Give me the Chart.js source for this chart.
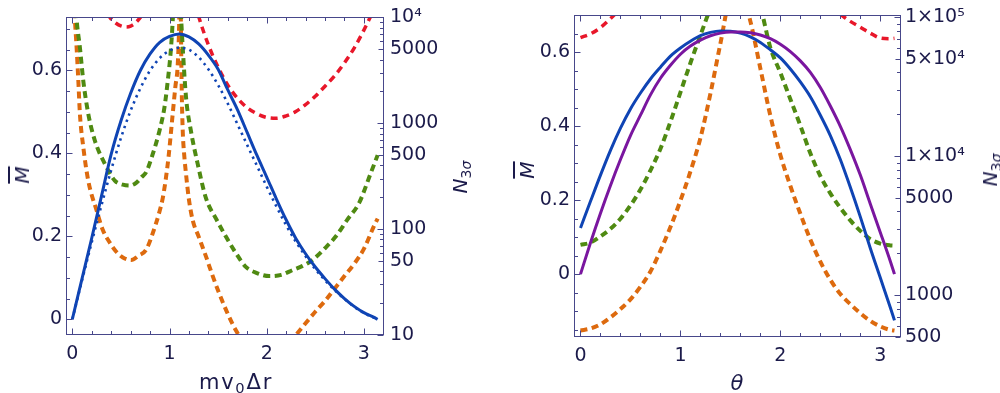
<!DOCTYPE html>
<html>
<head>
<meta charset="utf-8">
<script src="https://cdn.jsdelivr.net/npm/chart.js@4.4.0/dist/chart.umd.min.js"></script>
<style>
  html, body { margin: 0; padding: 0; background: #fff; }
  #wrap { position: relative; width: 1000px; height: 393px; overflow: hidden;
          font-family: "DejaVu Sans", sans-serif; color: #1b1a4a; }
  canvas { position: absolute; top: 0; }
  .lbl { position: absolute; white-space: nowrap; font-size: 20px; line-height: 1; }
  .rot { transform: translate(-50%, -50%) rotate(-90deg); }
  .hor { transform: translate(-50%, -50%); }
  .lbl sub { font-size: 70%; vertical-align: -0.3em; line-height: 0; }
  .bar { text-decoration: overline; }
  .wide { font-size: 21px; letter-spacing: 1.8px; }
</style>
</head>
<body>
<div id="wrap">
  <canvas id="left" width="500" height="393" style="left:0"></canvas>
  <canvas id="right" width="500" height="393" style="left:500px"></canvas>

  <div class="lbl rot" style="left:22px;top:175px"><i class="bar">M</i></div>
  <div class="lbl rot" style="left:460px;top:177px"><i>N</i><sub>3<i>σ</i></sub></div>
  <div class="lbl hor wide" style="left:236px;top:382px">mv<sub>0</sub>Δr</div>

  <div class="lbl rot" style="left:527px;top:170px"><i class="bar">M</i></div>
  <div class="lbl rot" style="left:990px;top:170px"><i>N</i><sub>3<i>σ</i></sub></div>
  <div class="lbl hor" style="left:737px;top:383px;font-size:21px"><i>θ</i></div>
</div>

<script>
// ---------- left panel: x = m v0 Δr ----------
const xL = [0, 0.1, 0.2, 0.3, 0.4, 0.5, 0.6, 0.7, 0.8, 0.9, 1.0, 1.1, 1.2, 1.3, 1.4, 1.5,
            1.6, 1.7, 1.8, 1.9, 2.0, 2.1, 2.2, 2.3, 2.4, 2.5, 2.6, 2.7, 2.8, 2.9, 3.0, 3.1, 3.1416];
const mSolidL = [0, 0.098, 0.196, 0.297, 0.398, 0.478, 0.545, 0.60, 0.64, 0.668, 0.682, 0.688, 0.681,
                 0.664, 0.637, 0.603, 0.553, 0.505, 0.45, 0.395, 0.343, 0.29, 0.24, 0.195, 0.158,
                 0.126, 0.098, 0.072, 0.05, 0.031, 0.016, 0.005, 0];
const mDotL = [0, 0.094, 0.186, 0.275, 0.36, 0.437, 0.503, 0.557, 0.60, 0.63, 0.648, 0.655, 0.65,
               0.632, 0.603, 0.565, 0.52, 0.47, 0.42, 0.37, 0.32, 0.272, 0.227, 0.187, 0.152,
               0.121, 0.094, 0.07, 0.049, 0.03, 0.015, 0.004, 0];

const redXL = [0.30, 0.35, 0.40, 0.45, 0.50, 0.557, 0.60, 0.65, 0.70, 0.75, 0.95,
               1.2, 1.3, 1.4, 1.5, 1.6, 1.7, 1.8, 1.9, 2.0, 2.1, 2.2, 2.3, 2.4, 2.5, 2.6, 2.7,
               2.8, 2.9, 3.0, 3.1, 3.1416];
const redNL = [13500, 11200, 9660, 8810, 8320, 8130, 8280, 8870, 10000, 11700, null,
               22400, 10200, 5500, 3390, 2290, 1720, 1400, 1230, 1135, 1115, 1175, 1290, 1500,
               1800, 2240, 2820, 3720, 5130, 7590, 11700, 14100];

const greenXL = [0, 0.044, 0.078, 0.113, 0.164, 0.232, 0.335, 0.437, 0.52, 0.592, 0.66, 0.711, 0.76,
                 0.828, 0.897, 0.948, 0.982, 1.016, 1.033, 1.06, 1.10, 1.12, 1.136, 1.17, 1.22, 1.29,
                 1.376, 1.48, 1.58, 1.68, 1.785, 1.9, 2.026, 2.15, 2.265, 2.37, 2.47, 2.6, 2.71,
                 2.83, 2.95, 3.07, 3.1416];
const greenNL = [40000, 9550, 5210, 2510, 1230, 686, 413, 287, 263, 258, 275, 309, 345,
                 513, 851, 1413, 2510, 5210, 9290, 30000, 30000, 9800, 5210, 1758, 851, 413,
                 195, 125, 85, 60, 44, 38.5, 36, 37, 41, 45, 51, 66, 85,
                 123, 176, 337, 500];

const orangeXL = [0, 0.027, 0.044, 0.062, 0.078, 0.113, 0.164, 0.25, 0.314, 0.38, 0.45, 0.52, 0.606,
                  0.68, 0.76, 0.862, 0.9, 0.93, 0.96, 0.99, 1.033, 1.06, 1.085, 1.10, 1.11, 1.118,
                  1.126, 1.136, 1.15, 1.17, 1.2, 1.24, 1.3, 1.376, 1.44, 1.51, 1.6, 1.68, 1.85,
                  2.0, 2.15, 2.316, 2.4, 2.5, 2.6, 2.7, 2.8, 2.9, 3.0, 3.1, 3.1416];
const orangeNL = [40000, 9550, 5210, 2510, 1230, 594, 287, 150, 98, 76, 61.5, 54, 51,
                  56, 64, 114, 150, 195, 290, 480, 1230, 2200, 3630, 9330, 40000, 7400,
                  2000, 851, 520, 331, 190, 120, 85, 55, 37, 24.9, 15.8, 11.2, 6.5,
                  5.5, 6.5, 10.4, 12.9, 16.6, 21, 27.5, 36, 47, 65, 105, 126];

// ---------- right panel: x = theta ----------
const thetaR = [0, 0.1, 0.2, 0.3, 0.4, 0.5, 0.6, 0.7, 0.8, 0.9, 1.0, 1.1, 1.2, 1.3, 1.4, 1.5,
                1.6, 1.7, 1.8, 1.9, 2.0, 2.1, 2.2, 2.3, 2.4, 2.5, 2.6, 2.7, 2.8, 2.9, 3.0, 3.1, 3.1416];
const mBlueR = [0.125, 0.197, 0.268, 0.335, 0.395, 0.447, 0.49, 0.528, 0.56, 0.59, 0.612, 0.63, 0.645,
                0.654, 0.658, 0.657, 0.652, 0.642, 0.627, 0.607, 0.585, 0.555, 0.52, 0.48, 0.43,
                0.375, 0.31, 0.235, 0.155, 0.07, -0.01, -0.09, -0.125];
const mPurpleR = [0, 0.085, 0.165, 0.24, 0.31, 0.375, 0.43, 0.485, 0.53, 0.565, 0.595, 0.617, 0.633,
                  0.645, 0.652, 0.655, 0.655, 0.653, 0.647, 0.637, 0.622, 0.602, 0.577, 0.546, 0.505,
                  0.455, 0.40, 0.337, 0.268, 0.19, 0.113, 0.035, 0];
const redNR = [71300, 75900, 84100, 97700, 115000, null, null, null, null, null, null, null, null,
               null, null, null, null, null, null, null, null, null, null, null, null,
               117500, 104700, 93300, 84700, 76700, 70800, 70000, 70500];
const greenNR = [2300, 2390, 2650, 3000, 3550, 4420, 5750, 7900, 11300, 17700, 28800, 46800, 74100,
                 115000, 158000, 178000, 178000, 158000, 117000, 60300, 39800, 25700, 16600, 10500,
                 7200, 5400, 4250, 3450, 2900, 2530, 2350, 2280, 2270];
const orangeNR = [557, 575, 617, 692, 794, 933, 1150, 1480, 2090, 3090, 4790, 7760, 13500,
                  28200, 64600, 141000, 158000, 93300, 42700, 19500, 10200, 6100, 3850, 2510,
                  1740, 1290, 1020, 861, 741, 653, 596, 562, 556];

// ticks
const xTicks = [0, 1, 2, 3];
const mTicks = [0, 0.2, 0.4, 0.6];
const nTicksL = [10, 50, 100, 500, 1000, 5000, 10000];
const nLabelsL = ['10', '50', '100', '500', '1000', '5000', '10⁴'];
const nTicksR = [500, 1000, 5000, 10000, 50000, 100000];
const nLabelsR = ['500', '1000', '5000', '1×10⁴', '5×10⁴', '1×10⁵'];

const BLUE = '#0f44b4';
const PURPLE = '#7a169f';
const RED = '#e8172a';
const GREEN = '#4f8a12';
const ORANGE = '#dd6a0e';
const TEXT = '#1b1a4a';
const AXIS = '#47478a';
const tickFont = { family: 'DejaVu Sans', size: 19 };

function pts(xs, ys) {
    return xs.map((x, i) => ({ x: x, y: ys[i] }));
}

// frame with inward ticks, drawn from the chart's own scales
const framePlugin = {
    id: 'frameTicks',
    afterDraw(chart) {
        const ctx = chart.ctx;
        const a = chart.chartArea;
        const sx = chart.scales.x, sm = chart.scales.m, sn = chart.scales.n;
        const L = Math.round(a.left) + 0.5, R = Math.round(a.right) - 0.5;
        const T = Math.round(a.top) + 0.5, B = Math.round(a.bottom) - 0.5;
        ctx.save();
        ctx.strokeStyle = AXIS;
        ctx.lineWidth = 1;
        ctx.strokeRect(L, T, R - L, B - T);
        ctx.beginPath();
        for (let k = 0; k * 0.2 <= sx.max; k++) {
            const px = Math.round(sx.getPixelForValue(k * 0.2)) + 0.5;
            const len = k % 5 === 0 ? 6 : 3.5;
            ctx.moveTo(px, B); ctx.lineTo(px, B - len);
            ctx.moveTo(px, T); ctx.lineTo(px, T + len);
        }
        for (let k = -6; k * 0.05 <= sm.max; k++) {
            const v = k * 0.05;
            if (v < sm.min) continue;
            const py = Math.round(sm.getPixelForValue(v)) + 0.5;
            const len = k % 4 === 0 ? 6 : 3.5;
            ctx.moveTo(L, py); ctx.lineTo(L + len, py);
        }
        const d0 = Math.floor(Math.log10(sn.min)), d1 = Math.ceil(Math.log10(sn.max));
        for (let d = d0; d <= d1; d++) {
            for (let m = 1; m <= 9; m++) {
                const v = m * Math.pow(10, d);
                if (v < sn.min * 0.999 || v > sn.max * 1.001) continue;
                const py = Math.round(sn.getPixelForValue(v)) + 0.5;
                const len = m === 1 ? 6 : (m === 5 ? 5 : 3.5);
                ctx.moveTo(R, py); ctx.lineTo(R - len, py);
            }
        }
        ctx.stroke();
        ctx.restore();
    }
};

function lineSet(data, axis, color, width, dash) {
    return {
        data: data,
        yAxisID: axis,
        borderColor: color,
        borderWidth: width,
        borderDash: dash || [],
        borderCapStyle: 'butt',
        pointRadius: 0,
        fill: false,
        cubicInterpolationMode: 'monotone',
        clip: 0
    };
}

function makeChart(id, datasets, lay) {
    return new Chart(document.getElementById(id), {
        type: 'line',
        data: { datasets: datasets },
        plugins: [framePlugin],
        options: {
            responsive: false,
            animation: false,
            layout: { padding: { top: lay.top, left: 0, right: 0, bottom: 0 } },
            plugins: { legend: { display: false }, tooltip: { enabled: false } },
            scales: {
                x: {
                    type: 'linear', min: -0.065, max: 3.207,
                    grid: { display: false, drawTicks: false }, border: { display: false },
                    afterBuildTicks: s => { s.ticks = xTicks.map(v => ({ value: v })); },
                    afterFit: s => { s.height = lay.xh; },
                    ticks: { font: tickFont, color: TEXT, padding: 8, maxRotation: 0, autoSkip: false,
                             callback: v => String(v) }
                },
                m: {
                    type: 'linear', position: 'left', min: lay.mMin, max: lay.mMax,
                    grid: { display: false, drawTicks: false }, border: { display: false },
                    afterBuildTicks: s => { s.ticks = mTicks.map(v => ({ value: v })); },
                    afterFit: s => { s.width = lay.lw; },
                    ticks: { font: tickFont, color: TEXT, padding: 4, autoSkip: false,
                             callback: v => (v === 0 ? '0' : v.toFixed(1)) }
                },
                n: {
                    type: 'logarithmic', position: 'right', min: lay.nMin, max: lay.nMax,
                    grid: { display: false, drawTicks: false }, border: { display: false },
                    afterBuildTicks: s => { s.ticks = lay.nTicks.map(v => ({ value: v })); },
                    afterFit: s => { s.width = lay.rw; },
                    ticks: { font: tickFont, color: TEXT, padding: lay.rpad, autoSkip: false,
                             callback: v => lay.nLabels[lay.nTicks.indexOf(v)] }
                }
            }
        }
    });
}

makeChart('left', [
    lineSet(pts(xL, mSolidL), 'm', BLUE, 3),
    lineSet(pts(xL, mDotL), 'm', BLUE, 2.6, [2.4, 4.2]),
    lineSet(pts(redXL, redNL), 'n', RED, 3.5, [7, 5]),
    lineSet(pts(greenXL, greenNL), 'n', GREEN, 4, [7, 4.5]),
    lineSet(pts(orangeXL, orangeNL), 'n', ORANGE, 4, [7, 4.5])
], { top: 17, xh: 58, lw: 66, rw: 116, rpad: 6, mMin: -0.038, mMax: 0.728,
     nMin: 10, nMax: 10000, nTicks: nTicksL, nLabels: nLabelsL });

makeChart('right', [
    lineSet(pts(thetaR, mPurpleR), 'm', PURPLE, 3),
    lineSet(pts(thetaR, mBlueR), 'm', BLUE, 3),
    lineSet(pts(thetaR, redNR), 'n', RED, 3.5, [7, 5]),
    lineSet(pts(thetaR, greenNR), 'n', GREEN, 4, [7, 4.5]),
    lineSet(pts(thetaR, orangeNR), 'n', ORANGE, 4, [7, 4.5])
], { top: 12, xh: 56, lw: 74, rw: 99, rpad: 4, mMin: -0.17, mMax: 0.70,
     nMin: 500, nMax: 103000, nTicks: nTicksR, nLabels: nLabelsR });
</script>
</body>
</html>
